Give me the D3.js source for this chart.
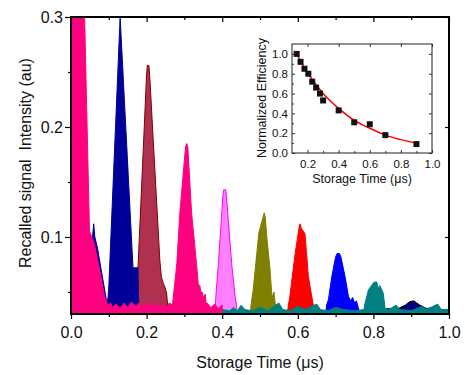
<!DOCTYPE html>
<html>
<head>
<meta charset="utf-8">
<script src="https://cdn.jsdelivr.net/npm/d3@7"></script>
<style>
  body { margin: 0; background: #fff; }
  svg { font-family: "Liberation Sans", Arial, sans-serif; }
</style>
</head>
<body>
<div id="chart"></div>
<script>
// recalled pulses, [time (us), intensity (au)]
const pulse0 = [[0,0.32],[0.034,0.32],[0.036,0.3],[0.049,0.105],[0.061,0.095],[0.076,0.07],[0.089,0.046],[0.098,0.038],
  [0.105,0.04],[0.11,0.036],[0.12,0.039],[0.13,0.035],[0.14,0.04],[0.15,0.036],[0.16,0.041],[0.17,0.037],[0.18,0.04],
  [0.19,0.036],[0.2,0.04],[0.21,0.037],[0.22,0.041],[0.23,0.036],[0.24,0.039],[0.25,0.035],[0.26,0.04],[0.27,0.038],
  [0.28,0.04],[0.29,0.036],[0.3,0.039],[0.31,0.037],[0.32,0.04],[0.33,0.035],[0.34,0.039],[0.35,0.037],[0.36,0.04],
  [0.37,0.036],[0.38,0.039],[0.39,0.035],[0.4,0.038],[0.4,0.03]];
const pulse1 = [[0.045,0.03],[0.05,0.1],[0.057,0.1],[0.06,0.112],[0.063,0.1],[0.07,0.09],[0.08,0.07],[0.09,0.05],
  [0.095,0.04],[0.098,0.045],[0.1,0.055],[0.13,0.3],[0.164,0.072],[0.177,0.072],[0.179,0.04],[0.185,0.03]];
const pulse2 = [[0.045,0.03],[0.05,0.1],[0.058,0.1],[0.065,0.088],[0.075,0.06],[0.085,0.045],[0.09,0.03],
  [0.172,0.03],[0.174,0.045],[0.177,0.07],[0.2,0.248],[0.202,0.256],[0.206,0.256],[0.208,0.248],[0.235,0.079],
  [0.239,0.064],[0.244,0.058],[0.248,0.055],[0.253,0.049],[0.257,0.032],[0.26,0.03]];
const pulse3 = [[0.266,0.03],[0.269,0.04],[0.28,0.076],[0.288,0.122],[0.303,0.182],[0.306,0.185],[0.309,0.182],
  [0.319,0.122],[0.332,0.076],[0.337,0.056],[0.341,0.056],[0.343,0.05],[0.347,0.05],[0.35,0.045],[0.355,0.048],
  [0.359,0.035],[0.362,0.03]];
const pulse4 = [[0.381,0.03],[0.383,0.045],[0.39,0.076],[0.402,0.138],[0.404,0.143],[0.409,0.143],[0.411,0.138],
  [0.425,0.076],[0.434,0.046],[0.437,0.04],[0.44,0.03]];
const pulse5 = [[0.474,0.03],[0.477,0.04],[0.482,0.052],[0.497,0.104],[0.508,0.118],[0.511,0.122],[0.514,0.118],
  [0.518,0.1],[0.526,0.073],[0.531,0.049],[0.534,0.045],[0.537,0.05],[0.54,0.04],[0.543,0.035],[0.545,0.03]];
const pulse6 = [[0.572,0.03],[0.575,0.038],[0.579,0.046],[0.593,0.085],[0.604,0.11],[0.606,0.112],[0.609,0.108],
  [0.619,0.103],[0.628,0.064],[0.637,0.046],[0.64,0.04],[0.645,0.035],[0.648,0.03]];
const pulse7 = [[0.674,0.03],[0.676,0.038],[0.681,0.043],[0.69,0.064],[0.7,0.082],[0.704,0.085],[0.71,0.085],
  [0.714,0.082],[0.725,0.064],[0.734,0.046],[0.74,0.042],[0.745,0.045],[0.75,0.04],[0.755,0.042],[0.76,0.036],
  [0.765,0.03]];
const pulse8 = [[0.4,0.03],[0.4,0.034],[0.42,0.033],[0.43,0.036],[0.44,0.033],[0.45,0.038],[0.46,0.034],[0.48,0.033],
  [0.5,0.036],[0.52,0.033],[0.55,0.04],[0.56,0.034],[0.58,0.033],[0.6,0.037],[0.62,0.034],[0.65,0.039],[0.66,0.034],
  [0.68,0.033],[0.7,0.036],[0.72,0.034],[0.75,0.033],[0.775,0.034],[0.778,0.04],[0.787,0.052],[0.795,0.056],
  [0.802,0.059],[0.809,0.059],[0.813,0.053],[0.817,0.056],[0.826,0.049],[0.831,0.035],[0.84,0.034],[0.86,0.038],
  [0.87,0.034],[0.9,0.033],[0.93,0.037],[0.94,0.034],[0.97,0.039],[0.98,0.034],[1.0,0.034],[1.0,0.03]];
const pulse9 = [[0.83,0.03],[0.835,0.035],[0.86,0.034],[0.884,0.038],[0.895,0.041],[0.906,0.042],[0.915,0.04],
  [0.923,0.038],[0.941,0.035],[0.96,0.036],[0.98,0.034],[1.0,0.034],[1.0,0.03]];

// draw order back to front: [data, fill, stroke]
const pulses = [
  [pulse9, "#000080", "#000000"],
  [pulse7, "#0000ff", "#0000ff"],
  [pulse6, "#ff0000", "#ff0000"],
  [pulse5, "#808000", "#808000"],
  [pulse4, "#ff80ff", "#ff00ff"],
  [pulse3, "#ff0080", "#ff0080"],
  [pulse2, "#b0304f", "#800000"],
  [pulse1, "#000099", "#000099"],
  [pulse8, "#008080", "#008080"],
  [pulse0, "#ff0080", "#ff0080"]
];

// inset: normalized efficiency vs storage time
const effTime = [0.13, 0.155, 0.18, 0.205, 0.23, 0.255, 0.28, 0.30, 0.4, 0.5, 0.6, 0.7, 0.9];
const effValue = [1.0, 0.92, 0.85, 0.80, 0.72, 0.66, 0.60, 0.53, 0.43, 0.31, 0.29, 0.18, 0.09];
const fitTime = [0.13, 0.2, 0.3, 0.4, 0.5, 0.6, 0.7, 0.8, 0.9];
const fitValue = [1.0, 0.81, 0.60, 0.45, 0.33, 0.25, 0.18, 0.135, 0.10];

const xTicks = [0, 0.2, 0.4, 0.6, 0.8, 1.0];
const xMinor = [0.1, 0.3, 0.5, 0.7, 0.9];
const yTicks = [0.1, 0.2, 0.3];
const yMinor = [0.05, 0.15, 0.25];

const svg = d3.select("#chart").append("svg")
  .attr("width", 465)
  .attr("height", 375);

const x = d3.scaleLinear().domain([0, 1]).range([71, 449]),
      y = d3.scaleLinear().domain([0.03, 0.3]).range([314, 17]);

svg.append("clipPath").attr("id", "plot")
  .append("rect").attr("x", 71).attr("y", 17).attr("width", 378).attr("height", 297);

const area = d3.area()
  .x(d => x(d[0]))
  .y0(y(0.03))
  .y1(d => y(d[1]));

const g = svg.append("g").attr("clip-path", "url(#plot)");
pulses.forEach(p => {
  g.append("path")
    .attr("d", area(p[0]))
    .attr("fill", p[1])
    .attr("stroke", p[2])
    .attr("stroke-width", 1)
    .attr("stroke-linejoin", "round");
});

// axes
function styleAxis(sel, size) {
  sel.select(".domain").remove();
  sel.selectAll("line").attr("stroke", "#000").attr("stroke-width", 1.2);
  sel.selectAll("text").attr("font-size", size).attr("fill", "#111");
}

svg.append("g").attr("transform", "translate(0,314)")
  .call(d3.axisBottom(x).tickValues(xTicks).tickFormat(d3.format(".1f")).tickSize(5).tickPadding(8))
  .call(s => styleAxis(s, 16));
svg.append("g").attr("transform", "translate(0,314)")
  .call(d3.axisBottom(x).tickValues(xMinor).tickFormat("").tickSize(3))
  .call(s => styleAxis(s, 16));
svg.append("g").attr("transform", "translate(0,17)")
  .call(d3.axisTop(x).tickValues(xTicks).tickFormat("").tickSize(-5))
  .call(s => styleAxis(s, 16));
svg.append("g").attr("transform", "translate(0,17)")
  .call(d3.axisTop(x).tickValues(xMinor).tickFormat("").tickSize(-3))
  .call(s => styleAxis(s, 16));
svg.append("g").attr("transform", "translate(71,0)")
  .call(d3.axisLeft(y).tickValues(yTicks).tickFormat(d3.format(".1f")).tickSize(6).tickPadding(2))
  .call(s => styleAxis(s, 16));
svg.append("g").attr("transform", "translate(71,0)")
  .call(d3.axisLeft(y).tickValues(yMinor).tickFormat("").tickSize(3))
  .call(s => styleAxis(s, 16));
svg.append("g").attr("transform", "translate(449,0)")
  .call(d3.axisRight(y).tickValues(yTicks).tickFormat("").tickSize(-4))
  .call(s => styleAxis(s, 16));

svg.append("rect")
  .attr("x", 71).attr("y", 17).attr("width", 378).attr("height", 297)
  .attr("fill", "none").attr("stroke", "#000").attr("stroke-width", 2);

svg.append("text")
  .attr("x", 260).attr("y", 368)
  .attr("text-anchor", "middle").attr("font-size", 16).attr("fill", "#111")
  .text("Storage Time (\u03bcs)");
svg.append("text")
  .attr("transform", "translate(31,163) rotate(-90)")
  .attr("text-anchor", "middle").attr("font-size", 16).attr("fill", "#111")
  .style("white-space", "pre")
  .text("Recalled signal  Intensity (au)");

// inset
const ix = d3.scaleLinear().domain([0.1, 1.0]).range([292, 432]),
      iy = d3.scaleLinear().domain([0, 1.1]).range([153, 44]);

const inset = svg.append("g");
inset.append("rect")
  .attr("x", 292).attr("y", 44).attr("width", 140).attr("height", 109)
  .attr("fill", "#fff");

inset.append("g").attr("transform", "translate(0,153)")
  .call(d3.axisBottom(ix).tickValues([0.2, 0.4, 0.6, 0.8, 1.0]).tickFormat(d3.format(".1f")).tickSize(-3).tickPadding(7))
  .call(s => styleAxis(s, 11.5));
inset.append("g").attr("transform", "translate(0,153)")
  .call(d3.axisBottom(ix).tickValues([0.3, 0.5, 0.7, 0.9]).tickFormat("").tickSize(-2))
  .call(s => styleAxis(s, 11.5));
inset.append("g").attr("transform", "translate(0,44)")
  .call(d3.axisTop(ix).tickValues([0.2, 0.4, 0.6, 0.8, 1.0]).tickFormat("").tickSize(-3))
  .call(s => styleAxis(s, 11.5));
inset.append("g").attr("transform", "translate(292,0)")
  .call(d3.axisLeft(iy).tickValues([0, 0.2, 0.4, 0.6, 0.8, 1.0]).tickFormat(d3.format(".1f")).tickSize(-3).tickPadding(4))
  .call(s => styleAxis(s, 11.5));
inset.append("g").attr("transform", "translate(292,0)")
  .call(d3.axisLeft(iy).tickValues([0.1, 0.3, 0.5, 0.7, 0.9]).tickFormat("").tickSize(-2))
  .call(s => styleAxis(s, 11.5));
inset.append("g").attr("transform", "translate(432,0)")
  .call(d3.axisRight(iy).tickValues([0, 0.2, 0.4, 0.6, 0.8, 1.0]).tickFormat("").tickSize(-3))
  .call(s => styleAxis(s, 11.5));
inset.selectAll("line").attr("stroke-width", 0.8);

const fit = d3.line()
  .x(d => ix(d[0]))
  .y(d => iy(d[1]))
  .curve(d3.curveMonotoneX);
inset.append("path")
  .attr("d", fit(d3.zip(fitTime, fitValue)))
  .attr("fill", "none").attr("stroke", "#ff0000").attr("stroke-width", 1.5);

inset.selectAll(".pt")
  .data(d3.zip(effTime, effValue))
  .enter().append("rect")
  .attr("class", "pt")
  .attr("x", d => ix(d[0]) - 3)
  .attr("y", d => iy(d[1]) - 3)
  .attr("width", 6).attr("height", 6)
  .attr("fill", "#111");

inset.append("rect")
  .attr("x", 292).attr("y", 44).attr("width", 140).attr("height", 109)
  .attr("fill", "none").attr("stroke", "#222").attr("stroke-width", 1);

inset.append("text")
  .attr("x", 362).attr("y", 183)
  .attr("text-anchor", "middle").attr("font-size", 12.5).attr("fill", "#111")
  .text("Storage Time (\u03bcs)");
inset.append("text")
  .attr("transform", "translate(266,98) rotate(-90)")
  .attr("text-anchor", "middle").attr("font-size", 12.5).attr("fill", "#111")
  .text("Normalized Efficiency");
</script>
</body>
</html>
